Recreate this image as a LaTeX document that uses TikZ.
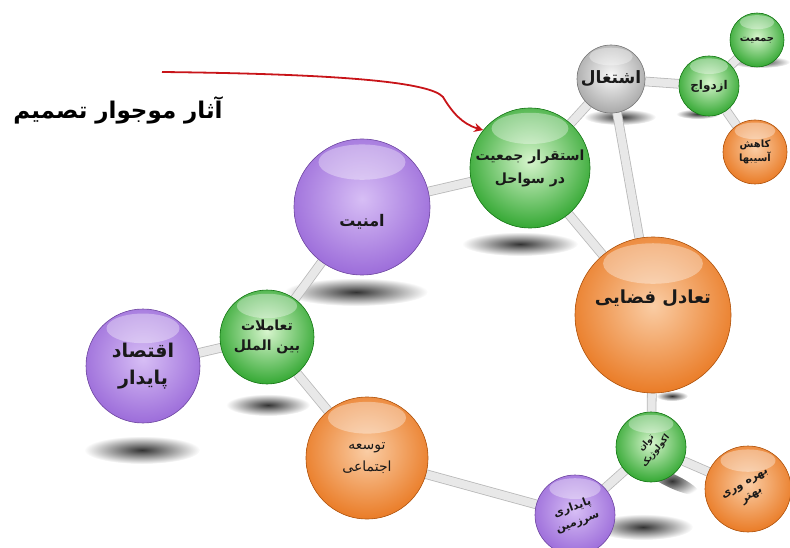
\documentclass[tikz,border=0pt]{standalone}
\usepackage{fontspec}
\newfontfamily\fa[Script=Arabic]{DejaVu Sans}
\TeXXeTstate=1
\usetikzlibrary{arrows.meta,backgrounds,calc}

\definecolor{ballpurple}{RGB}{150,100,215}
\definecolor{hlpurple}{RGB}{215,190,245}
\definecolor{ballgreen}{RGB}{35,160,35}
\definecolor{hlgreen}{RGB}{215,245,205}
\definecolor{ballorange}{RGB}{232,115,25}
\definecolor{hlorange}{RGB}{250,205,165}
\definecolor{ballgray}{RGB}{160,160,160}
\definecolor{hlgray}{RGB}{248,248,248}
\definecolor{arrowred}{RGB}{200,20,25}

\newcommand{\rtl}[1]{\beginR#1\endR}
\newcommand{\twolines}[2]{\begin{tabular}{@{}c@{}}\rtl{#1}\\\rtl{#2}\end{tabular}}

\begin{document}
\begin{tikzpicture}[x=1pt, y=-1pt,
        ball/.style={circle, inner sep=0pt, align=center, fill=ball#1,
            draw=ball#1!75!black, line width=0.6pt, text=black!90,
            path picture={
                \shade[inner color=hl#1, outer color=ball#1]
                    let \p1=(path picture bounding box.north east),
                        \p2=(path picture bounding box.south west) in
                    ({0.5*(\x1+\x2)},{0.5*(\y1+\y2)+0.06*(\y1-\y2)}) circle ({0.62*(\x1-\x2)});
                \fill[white, opacity=0.35]
                    let \p1=(path picture bounding box.north east),
                        \p2=(path picture bounding box.south west) in
                    ({0.5*(\x1+\x2)},{\y1-0.17*(\y1-\y2)}) ellipse ({0.32*(\x1-\x2)} and {0.13*(\y1-\y2)});
            }},
        bond/.style={draw=gray!55, line width=0.8pt, double=gray!18, double distance=8pt},
        shadow/.style={inner color=black!80, outer color=white},
        farsi/.style 2 args={font=\fa\bfseries\fontsize{#1}{#2}\selectfont}
    ]
    \useasboundingbox (0,0) rectangle (790,548);

    % title and pointer
    \node[farsi={23}{26}] (title) at (118,110) {\rtl{آثار موجوار تصمیم}};
    \coordinate (arrowtail) at (162,72);

    % balls
    \node[ball=purple, minimum size=114pt, farsi={19}{27}] (econ) at (143,366)
        {\rtl{اقتصاد}\\\rtl{پایدار}};
    \node[ball=green, minimum size=94pt, farsi={14}{20}] (intl) at (267,337)
        {\rtl{تعاملات}\\\rtl{بین الملل}};
    \node[ball=purple, minimum size=136pt, farsi={16}{18}] (security) at (362,207)
        {\raisebox{-20pt}[0pt][0pt]{\rtl{امنیت}}};
    \node[ball=green, minimum size=120pt, farsi={14}{23}] (settle) at (530,168)
        {\rtl{استقرار جمعیت}\\\rtl{در سواحل}};
    \node[ball=gray, minimum size=68pt, farsi={17}{20}] (employ) at (611,79)
        {\rtl{اشتغال}};
    \node[ball=green, minimum size=60pt, farsi={12}{14}] (marriage) at (709,86)
        {\rtl{ازدواج}};
    \node[ball=green, minimum size=54pt, farsi={10}{12}] (pop) at (757,40)
        {\rtl{جمعیت}};
    \node[ball=orange, minimum size=64pt, farsi={10}{14}] (harm) at (755,152)
        {\rtl{کاهش}\\\rtl{آسیبها}};
    \node[ball=orange, minimum size=156pt, farsi={18}{20}] (balance) at (653,315)
        {\raisebox{12pt}[0pt][0pt]{\rtl{تعادل فضایی}}};
    \node[ball=orange, minimum size=122pt, font=\fa\fontsize{14}{22}\selectfont] (social) at (367,458)
        {\rtl{توسعه}\\\rtl{اجتماعی}};
    \node[ball=green, minimum size=70pt, farsi={8.5}{12}] (ecology) at (651,447)
        {\rotatebox{50}{\twolines{توان}{اکولوژیک}}};
    \node[ball=orange, minimum size=86pt, farsi={11}{14}] (yield) at (748,489)
        {\rotatebox{30}{\twolines{بهره وری}{بهتر}}};
    \node[ball=purple, minimum size=80pt, farsi={11}{15}] (land) at (575,515)
        {\rotatebox{20}{\twolines{پایداری}{سرزمین}}};

    % pointer arrow
    \draw[arrowred, line width=1.8pt, -{Stealth[length=9pt,width=9pt]}]
        (arrowtail) .. controls (340,74) and (430,82) .. (443,97)
        .. controls (452,112) and (462,124) .. (settle.141);

    \begin{scope}[on background layer]
        % shadows
        \shade[shadow] (142,450) ellipse (58pt and 14pt);
        \shade[shadow] (268,405) ellipse (42pt and 11pt);
        \shade[shadow] (356,292) ellipse (72pt and 14pt);
        \shade[shadow] (520,244) ellipse (58pt and 12pt);
        \shade[shadow] (620,117) ellipse (36pt and 8pt);
        \shade[shadow] (698,114) ellipse (22pt and 5pt);
        \shade[shadow] (760,62) ellipse (30pt and 6pt);
        \shade[shadow] (672,396) ellipse (16pt and 5pt);
        \shade[shadow, rotate around={-25:(672,481)}] (672,481) ellipse (30pt and 7pt);
        \shade[shadow] (643,527) ellipse (50pt and 13pt);

        % bonds
        \draw[bond] (econ) -- (intl);
        \draw[bond] (intl) -- (security);
        \draw[bond] (intl) -- (social);
        \draw[bond] (security) -- (settle);
        \draw[bond] (settle) -- (employ);
        \draw[bond] (settle) -- (balance);
        \draw[bond] (employ) -- (balance);
        \draw[bond] (employ) -- (marriage);
        \draw[bond] (marriage) -- (pop);
        \draw[bond] (marriage) -- (harm);
        \draw[bond] (balance) -- (ecology);
        \draw[bond] (ecology) -- (yield);
        \draw[bond] (ecology) -- (land);
        \draw[bond] (land) -- (social);
    \end{scope}
\end{tikzpicture}
\end{document}
